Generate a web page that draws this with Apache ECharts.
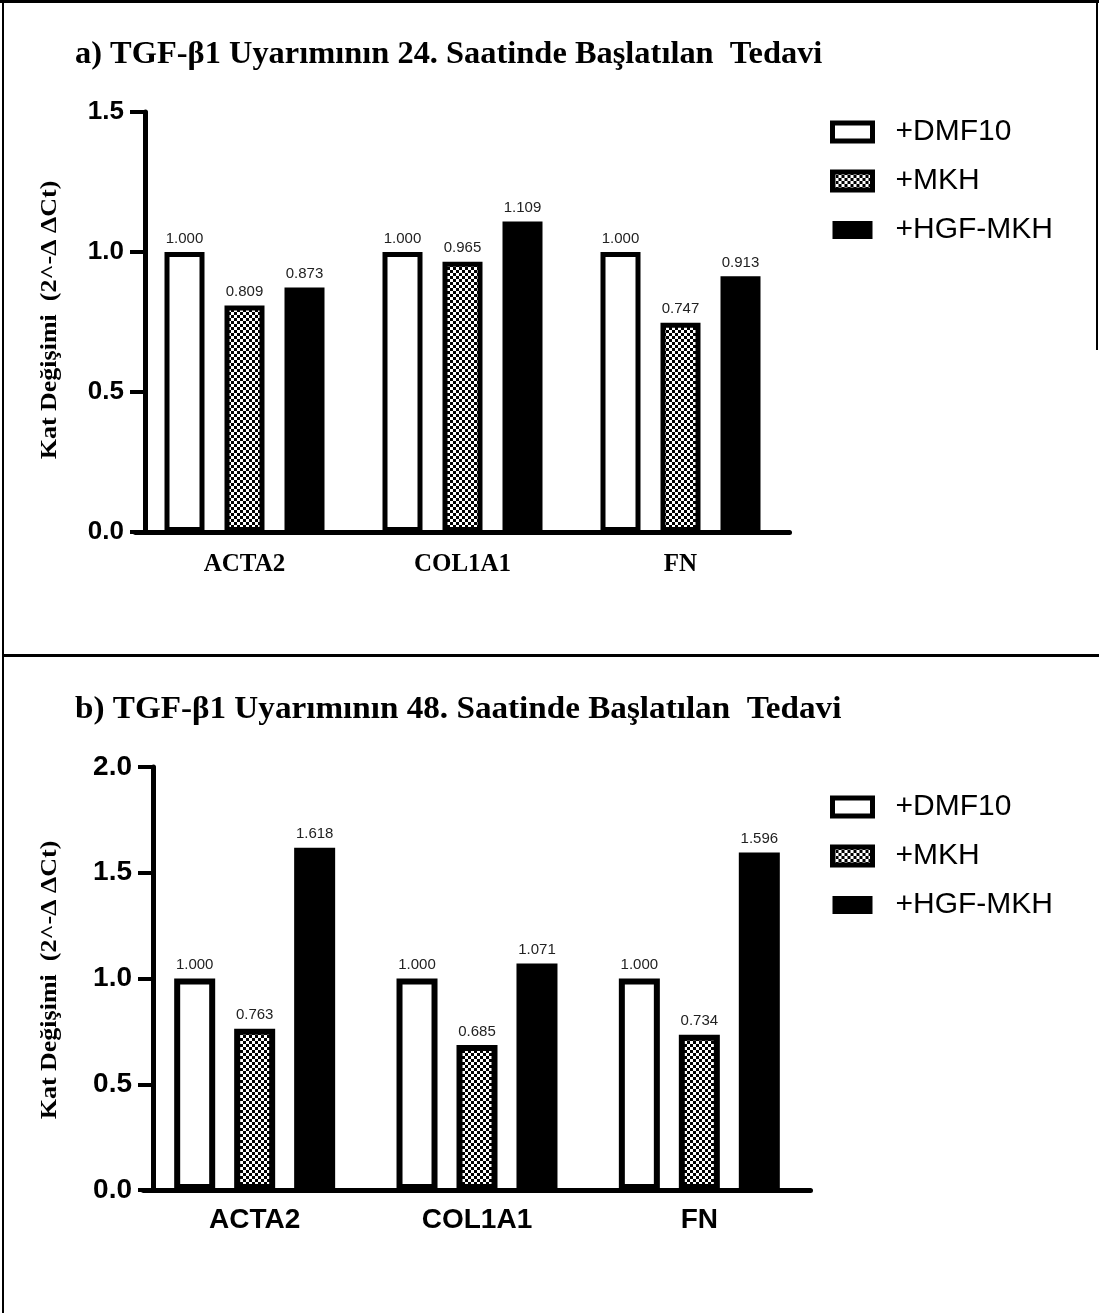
<!DOCTYPE html>
<html>
<head>
<meta charset="utf-8">
<script src="https://cdn.jsdelivr.net/npm/echarts@6/dist/echarts.min.js"></script>
<style>html,body{margin:0;padding:0;background:#fff}#c{width:1099px;height:1313px}</style>
</head>
<body>
<div id="c"></div>
<script>
const categories = ['ACTA2', 'COL1A1', 'FN'];
const seriesNames = ['+DMF10', '+MKH', '+HGF-MKH'];
const aDMF = [1.000, 1.000, 1.000];
const aMKH = [0.809, 0.965, 0.747];
const aHGF = [0.873, 1.109, 0.913];
const bDMF = [1.000, 1.000, 1.000];
const bMKH = [0.763, 0.685, 0.734];
const bHGF = [1.618, 1.071, 1.596];
const titleA = 'a) TGF-β1 Uyarımının 24. Saatinde Başlatılan  Tedavi';
const titleB = 'b) TGF-β1 Uyarımının 48. Saatinde Başlatılan  Tedavi';
const yName = 'Kat Değişimi  (2^-Δ ΔCt)';
const yMaxA = 1.5, yMaxB = 2.0, yStep = 0.5;

// checker pattern
const pc = document.createElement('canvas');
pc.width = 6; pc.height = 6;
const pctx = pc.getContext('2d');
pctx.fillStyle = '#fff'; pctx.fillRect(0, 0, 6, 6);
pctx.fillStyle = '#000'; pctx.fillRect(0, 0, 3, 3); pctx.fillRect(3, 3, 3, 3);
const checker = { image: pc, repeat: 'repeat' };

const fills = ['#ffffff', checker, '#000000'];
const serif = '"Liberation Serif", "Times New Roman", serif';
const sans = '"Liberation Sans", Arial, sans-serif';

function makeSeries(gi, data, bw, barW, gap, labelSize) {
  return data.map((d, i) => ({
    name: seriesNames[i],
    type: 'bar',
    xAxisIndex: gi, yAxisIndex: gi,
    data: d,
    barWidth: barW,
    barGap: gap,
    itemStyle: { color: fills[i], borderColor: '#000', borderWidth: bw },
    label: {
      show: true, position: 'top', distance: 6,
      formatter: p => p.value.toFixed(3),
      fontFamily: sans, fontSize: labelSize, color: '#222'
    },
    emphasis: { disabled: true },
    animation: false
  }));
}

const chart = echarts.init(document.getElementById('c'), null, { renderer: 'canvas' });
const legendCommon = {
  orient: 'vertical', left: 830, padding: 0, itemWidth: 40, itemHeight: 18, itemGap: 19,
  textStyle: { fontFamily: sans, fontSize: 30, color: '#000', padding: [0, 0, 0, 18] },
  selectedMode: false
};
function legendData() {
  return seriesNames.map((n, i) => ({ name: n, icon: 'rect', itemStyle: { borderWidth: i === 2 ? 0 : 5, borderColor: '#000' } }));
}
function yAxisCfg(gi, max, labelSize) {
  return {
    type: 'value', gridIndex: gi, min: 0, max: max, interval: yStep, offset: -9.5,
    axisLine: { show: true, lineStyle: { color: '#000', width: 5 } },
    axisTick: { show: true, length: 15, lineStyle: { color: '#000', width: 4 } },
    splitLine: { show: false },
    axisLabel: { margin: 21, fontFamily: sans, fontWeight: 'bold', fontSize: labelSize, color: '#000', formatter: v => v.toFixed(1) }
  };
}
function yNameText(cx, cy) {
  return {
    type: 'text', x: cx, y: cy, rotation: Math.PI / 2, scaleX: 1.13, silent: true,
    style: { text: yName, font: 'bold 23px ' + serif, fill: '#000', align: 'center', verticalAlign: 'middle' }
  };
}
chart.setOption({
  animation: false,
  grid: [
    { left: 135.5, width: 654, top: 112, height: 420 },
    { left: 143.5, width: 667, top: 767, height: 423 }
  ],
  legend: [
    Object.assign({ top: 117, data: legendData() }, legendCommon),
    Object.assign({ top: 792, data: legendData() }, legendCommon)
  ],
  xAxis: [
    {
      type: 'category', gridIndex: 0, data: categories,
      axisLine: { lineStyle: { color: '#000', width: 5 } },
      axisTick: { alignWithLabel: true, length: 14, lineStyle: { color: '#000', width: 4 } },
      axisLabel: { margin: 20, fontFamily: serif, fontWeight: 'bold', fontSize: 25, color: '#000' }
    },
    {
      type: 'category', gridIndex: 1, data: categories,
      axisLine: { lineStyle: { color: '#000', width: 5 } },
      axisTick: { alignWithLabel: true, length: 14, lineStyle: { color: '#000', width: 4 } },
      axisLabel: { margin: 16, fontFamily: sans, fontWeight: 'bold', fontSize: 28, color: '#000' }
    }
  ],
  yAxis: [yAxisCfg(0, yMaxA, 26), yAxisCfg(1, yMaxB, 28)],
  series: [].concat(
    makeSeries(0, [aDMF, aMKH, aHGF], 5, 40, '50%', 15),
    makeSeries(1, [bDMF, bMKH, bHGF], 6, 41, '46.3%', 15)
  ),
  graphic: [
    { type: 'rect', shape: { x: 0, y: 0, width: 1099, height: 3 }, style: { fill: '#000' }, silent: true },
    { type: 'rect', shape: { x: 2, y: 0, width: 2, height: 1313 }, style: { fill: '#000' }, silent: true },
    { type: 'rect', shape: { x: 1096, y: 0, width: 2, height: 350 }, style: { fill: '#000' }, silent: true },
    { type: 'rect', shape: { x: 2, y: 654, width: 1097, height: 3 }, style: { fill: '#000' }, silent: true },
    { type: 'text', x: 75, y: 55, scaleX: 1.046, silent: true, style: { text: titleA, font: 'bold 31px ' + serif, fill: '#000', verticalAlign: 'middle' } },
    { type: 'text', x: 75, y: 710, scaleX: 1.07, silent: true, style: { text: titleB, font: 'bold 31px ' + serif, fill: '#000', verticalAlign: 'middle' } },
    yNameText(50, 320),
    yNameText(50, 980)
  ]
});
</script>
</body>
</html>
